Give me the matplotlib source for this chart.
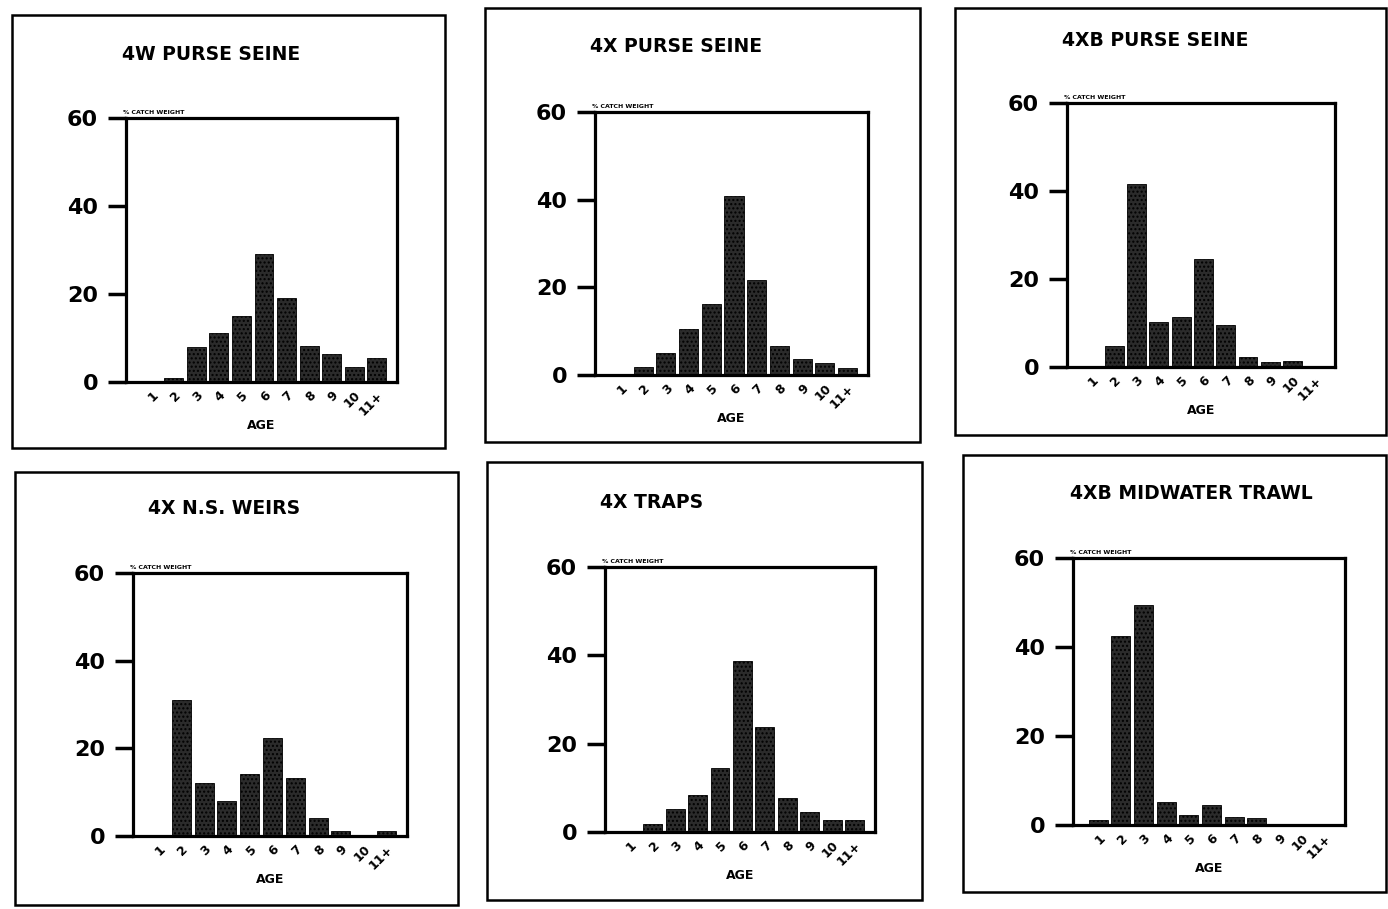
import matplotlib
matplotlib.use("Agg")
import matplotlib.pyplot as plt
from matplotlib.patches import Rectangle
import numpy as np

# age classes on the x axis
ages = ["1", "2", "3", "4", "5", "6", "7", "8", "9", "10", "11+"]

# percent of catch weight by age, one list per fishery
w4_purse_seine = [0.0, 1.0, 7.9, 11.1, 15.0, 29.1, 19.1, 8.2, 6.3, 3.4, 5.5]
x4_purse_seine = [0.0, 1.9, 5.0, 10.4, 16.3, 40.9, 21.7, 6.7, 3.7, 2.7, 1.7]
xb4_purse_seine = [0.0, 4.8, 41.6, 10.3, 11.3, 24.6, 9.5, 2.3, 1.2, 1.4, 0.0]
x4_ns_weirs = [0.0, 31.1, 12.0, 7.9, 14.1, 22.4, 13.3, 4.1, 1.2, 0.0, 1.2]
x4_traps = [0.0, 1.9, 5.1, 8.3, 14.5, 38.8, 23.7, 7.7, 4.6, 2.8, 2.8]
xb4_midwater_trawl = [1.1, 42.4, 49.5, 5.2, 2.3, 4.4, 1.7, 1.5, 0.0, 0.0, 0.0]

titles = ["4W PURSE SEINE", "4X PURSE SEINE", "4XB PURSE SEINE",
          "4X N.S. WEIRS", "4X TRAPS", "4XB MIDWATER TRAWL"]
series = [w4_purse_seine, x4_purse_seine, xb4_purse_seine,
          x4_ns_weirs, x4_traps, xb4_midwater_trawl]
yticks = [0, 20, 40, 60]

W, H = 1388, 909

# layout in pixels: panel frame (l, t, r, b), axes (l, t, r, b), title (x, y)
frames = [(12, 15, 445, 448), (485, 8, 920, 442), (955, 8, 1386, 435),
          (15, 472, 458, 905), (487, 462, 922, 900), (963, 455, 1386, 892)]
axes_px = [(126, 118, 397, 382), (595, 112, 868, 375), (1067, 103, 1335, 367),
           (133, 573, 407, 836), (605, 567, 875, 832), (1073, 558, 1345, 825)]
title_px = [(122, 55), (590, 47), (1062, 40), (148, 508), (600, 502), (1070, 494)]


def fx(x):
    return x / W


def fy(y):
    return 1 - y / H


fig = plt.figure(figsize=(W / 100, H / 100), dpi=100)
fig.patch.set_facecolor("white")

for i in range(6):
    l, t, r, b = frames[i]
    fig.add_artist(Rectangle((fx(l), fy(b)), fx(r - l), (b - t) / H,
                             transform=fig.transFigure, fill=False,
                             edgecolor="black", linewidth=1.8))

    l, t, r, b = axes_px[i]
    ax = fig.add_axes([fx(l), fy(b), fx(r - l), (b - t) / H])
    pos = np.arange(1, len(ages) + 1)
    ax.bar(pos, series[i], width=0.84, facecolor="#2b2b2b", edgecolor="#000000",
           hatch="....", linewidth=0.6)
    ax.set_xlim(-0.12, 11.9)
    ax.set_ylim(0, 60)
    ax.set_yticks(yticks)
    ax.set_yticklabels([str(v) for v in yticks], fontsize=16, fontweight="bold")
    ax.tick_params(axis="y", length=13, width=2.5, pad=7, direction="out")
    ax.set_xticks(pos)
    ax.set_xticklabels(ages, rotation=45, ha="right", rotation_mode="anchor",
                       fontsize=9, fontweight="bold")
    ax.tick_params(axis="x", length=0, pad=5)
    for s in ax.spines.values():
        s.set_linewidth(2.3)
    ax.set_xlabel("AGE", fontsize=9, fontweight="bold", labelpad=1)
    ax.text(-0.01, 1.012, "% CATCH WEIGHT", transform=ax.transAxes,
            fontsize=4.5, fontweight="bold", ha="left", va="bottom")

    tx, ty = title_px[i]
    fig.text(fx(tx), fy(ty), titles[i], fontsize=13.5, fontweight="bold",
             ha="left", va="center")

fig.savefig("out.png", dpi=100, facecolor="white")
